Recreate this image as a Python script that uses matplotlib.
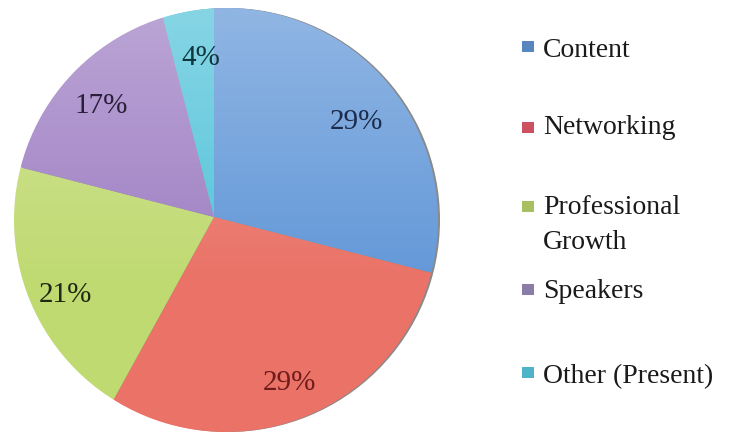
import numpy as np
import matplotlib.pyplot as plt
from matplotlib.patches import Circle, Rectangle

# survey answers
categories = ['Content', 'Networking', 'Professional\nGrowth', 'Speakers', 'Other (Present)']
values = [29, 29, 21, 17, 4]

slice_colors = ['#6398d8', '#ea7266', '#c0da72', '#9f80c4', '#55c4da']
label_colors = ['#1c2c4c', '#6e1c1c', '#1f2812', '#2a1f3a', '#10363e']
marker_colors = ['#5a86c0', '#cc5060', '#a8c060', '#8a7ca8', '#4fb4c8']

W, H = 729, 438
fig = plt.figure(figsize=(W / 100, H / 100), dpi=100)
ax = fig.add_axes([0, 0, 1, 1])

plt.rcParams['font.family'] = ['Liberation Serif', 'DejaVu Serif']

# the pie is seen slightly in perspective: the apex sits left of the disc centre
apex = (214, 221)
disc_c, disc_r = (226, 218), 212

# soft dark rim on the right
ax.add_patch(Circle((disc_c[0] + 2, disc_c[1]), disc_r, facecolor='#3a3a3a', edgecolor='none',
                    alpha=0.6, zorder=0))

wedges, texts, autotexts = ax.pie(values, colors=slice_colors, startangle=90, counterclock=False,
                                   center=apex, radius=232,
                                   autopct=lambda p: '%d%%' % round(p), pctdistance=0.735,
                                   wedgeprops=dict(linewidth=0))

disc = Circle(disc_c, disc_r, fill=False, linewidth=0)
ax.add_patch(disc)
for w in wedges:
    # pie turns clipping off for its wedges
    w.set_clip_on(True)
    w.set_clip_path(disc)
    w.set_zorder(1)

# light sheen, fading out towards the bottom
shade = np.ones((256, 1, 4))
ramp = np.linspace(0, 1, 256)
shade[:, 0, 3] = np.clip(ramp - 0.35, 0, None) * 0.45
im = ax.imshow(shade, extent=(disc_c[0] - disc_r, disc_c[0] + disc_r,
                              disc_c[1] - disc_r, disc_c[1] + disc_r),
               origin='lower', aspect='auto', zorder=2, interpolation='bilinear')
im.set_clip_path(disc)

for t, c in zip(autotexts, label_colors):
    x, y = t.get_position()
    t.set_position((x + 8, y - 10))
    t.set_color(c)
    t.set_fontsize(21)
    t.set_zorder(3)

# legend drawn by hand, one row per category (baseline of the last line)
legend_y = [57, 134, 249, 298, 383]
marker_y = [52, 133, 212, 295, 378]
for cat, col, y, my in zip(categories, marker_colors, legend_y, marker_y):
    ax.add_patch(Rectangle((522, H - my), 12, 11, facecolor=col, edgecolor='none'))
    ax.text(543, H - y, cat, fontsize=20, color='#1a1a1a', va='baseline', ha='left',
            linespacing=1.55)

ax.set_xlim(0, W)
ax.set_ylim(0, H)
ax.set_aspect('equal')
ax.axis('off')

fig.savefig('out.png', dpi=100)
